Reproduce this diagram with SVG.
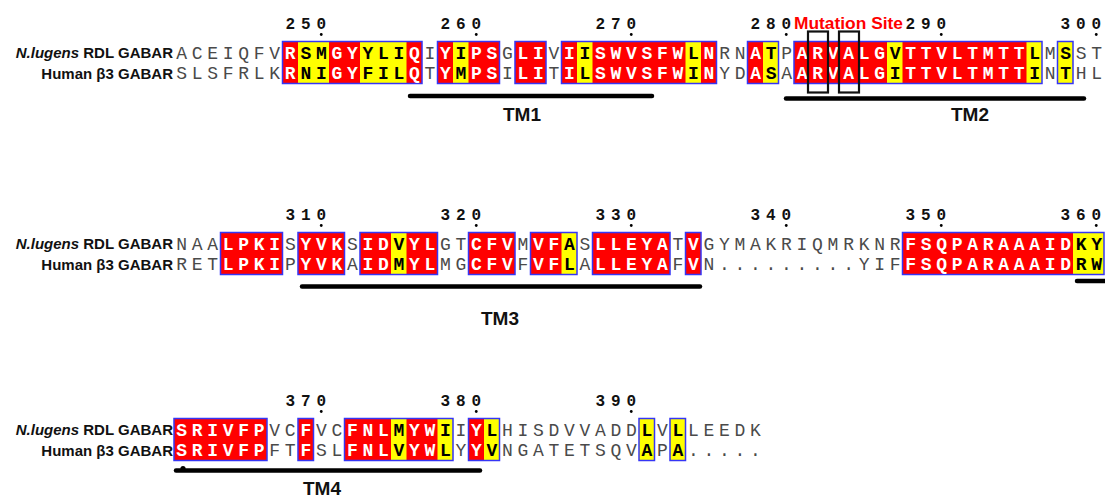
<svg xmlns="http://www.w3.org/2000/svg" width="1105" height="497" viewBox="0 0 1105 497">
<style>
.seq{font-family:"Liberation Mono",monospace;font-size:18px;letter-spacing:4.7px}
.g{fill:#4a4a4a;font-weight:normal}
.w{fill:#ffffff;font-weight:bold}
.k{fill:#000000;font-weight:bold}
.num{font-family:"Liberation Mono",monospace;font-size:16px;font-weight:bold;fill:#111;text-anchor:middle}
.lab{font-family:"Liberation Sans",Arial,sans-serif;font-size:15px;font-weight:bold;fill:#111;text-anchor:end}
.tm{font-family:"Liberation Sans",Arial,sans-serif;font-size:19px;font-weight:bold;fill:#111;text-anchor:middle}
.red{fill:#ff0000}
.yel{fill:#ffff00}
.box{fill:none;stroke:#3535f5;stroke-width:1.5}
.bar{stroke:#000;stroke-width:4.5;stroke-linecap:round;fill:none}
.mut{fill:none;stroke:#111;stroke-width:2.2}
</style>

<!-- Block 1 -->
<g id="block1">
  <g id="b1-cells">
    <rect class="red" x="282.5" y="41.5" width="139.5" height="42"/>
    <rect class="red" x="437.5" y="41.5" width="62" height="42"/>
    <rect class="red" x="515" y="41.5" width="31" height="42"/>
    <rect class="red" x="561.5" y="41.5" width="155" height="42"/>
    <rect class="red" x="747.5" y="41.5" width="31" height="42"/>
    <rect class="red" x="794" y="41.5" width="248" height="42"/>
    <rect class="yel" x="298" y="41.5" width="31" height="42"/>
    <rect class="yel" x="360" y="41.5" width="46.5" height="42"/>
    <rect class="yel" x="453" y="41.5" width="15.5" height="42"/>
    <rect class="yel" x="577" y="41.5" width="15.5" height="42"/>
    <rect class="yel" x="685.5" y="41.5" width="15.5" height="42"/>
    <rect class="yel" x="763" y="41.5" width="15.5" height="42"/>
    <rect class="yel" x="887" y="41.5" width="15.5" height="42"/>
    <rect class="yel" x="1026.5" y="41.5" width="15.5" height="42"/>
    <rect class="yel" x="1057.5" y="41.5" width="15.5" height="42"/>
    <rect class="box" x="282.5" y="41.5" width="139.5" height="42"/>
    <rect class="box" x="437.5" y="41.5" width="62" height="42"/>
    <rect class="box" x="515" y="41.5" width="31" height="42"/>
    <rect class="box" x="561.5" y="41.5" width="155" height="42"/>
    <rect class="box" x="747.5" y="41.5" width="31" height="42"/>
    <rect class="box" x="794" y="41.5" width="248" height="42"/>
    <rect class="box" x="1057.5" y="41.5" width="15.5" height="42"/>
  </g>
  <g id="b1-numbers">
    <text class="num" x="290.25 305.75 321.25" y="28.5">250</text>
    <text class="num" x="445.25 460.75 476.25" y="28.5">260</text>
    <text class="num" x="600.25 615.75 631.25" y="28.5">270</text>
    <text class="num" x="755.25 770.75 786.25" y="28.5">280</text>
    <text class="num" x="910.25 925.75 941.25" y="28.5">290</text>
    <text class="num" x="1065.25 1080.75 1096.25" y="28.5">300</text>
    <circle cx="321.25" cy="34.5" r="1.4"/><circle cx="476.25" cy="34.5" r="1.4"/><circle cx="631.25" cy="34.5" r="1.4"/><circle cx="786.25" cy="34.5" r="1.4"/><circle cx="941.25" cy="34.5" r="1.4"/><circle cx="1096.25" cy="34.5" r="1.4"/>
  </g>
  <text id="mutation-label" x="794" y="28.5" textLength="109" lengthAdjust="spacingAndGlyphs" style="font-family:'Liberation Sans',Arial,sans-serif;font-size:16.5px;font-weight:bold;fill:#ff0000">Mutation Site</text>
  <g id="b1-labels">
    <text class="lab" x="173" y="58">
<tspan font-style="italic">N.lugens</tspan> RDL GABAR</text>
    <text class="lab" x="173" y="78.5">Human β3 GABAR</text>
  </g>
  <text class="seq" x="176.35" y="58.5"><tspan class="g">ACEIQFV</tspan><tspan class="w">R</tspan><tspan class="k">SM</tspan><tspan class="w">GY</tspan><tspan class="k">YLI</tspan><tspan class="w">Q</tspan><tspan class="g">I</tspan><tspan class="w">Y</tspan><tspan class="k">I</tspan><tspan class="w">PS</tspan><tspan class="g">G</tspan><tspan class="w">LI</tspan><tspan class="g">V</tspan><tspan class="w">I</tspan><tspan class="k">I</tspan><tspan class="w">SWVSFW</tspan><tspan class="k">L</tspan><tspan class="w">N</tspan><tspan class="g">RN</tspan><tspan class="w">A</tspan><tspan class="k">T</tspan><tspan class="g">P</tspan><tspan class="w">ARVALG</tspan><tspan class="k">V</tspan><tspan class="w">TTVLTMTT</tspan><tspan class="k">L</tspan><tspan class="g">M</tspan><tspan class="k">S</tspan><tspan class="g">ST</tspan></text>
  <text class="seq" x="176.35" y="79"><tspan class="g">SLSFRLK</tspan><tspan class="w">R</tspan><tspan class="k">NI</tspan><tspan class="w">GY</tspan><tspan class="k">FIL</tspan><tspan class="w">Q</tspan><tspan class="g">T</tspan><tspan class="w">Y</tspan><tspan class="k">M</tspan><tspan class="w">PS</tspan><tspan class="g">I</tspan><tspan class="w">LI</tspan><tspan class="g">T</tspan><tspan class="w">I</tspan><tspan class="k">L</tspan><tspan class="w">SWVSFW</tspan><tspan class="k">I</tspan><tspan class="w">N</tspan><tspan class="g">YD</tspan><tspan class="w">A</tspan><tspan class="k">S</tspan><tspan class="g">A</tspan><tspan class="w">ARVALG</tspan><tspan class="k">I</tspan><tspan class="w">TTVLTMTT</tspan><tspan class="k">I</tspan><tspan class="g">N</tspan><tspan class="k">T</tspan><tspan class="g">HL</tspan></text>
  <g id="mutation-boxes">
    <rect class="mut" x="808" y="31.5" width="20" height="61"/>
    <rect class="mut" x="839" y="31.5" width="20" height="61"/>
  </g>
</g>

<!-- Block 2 -->
<g id="block2">
  <g id="b2-cells">
    <rect class="red" x="220.5" y="232.5" width="62" height="42"/>
    <rect class="red" x="298" y="232.5" width="46.5" height="42"/>
    <rect class="red" x="360" y="232.5" width="77.5" height="42"/>
    <rect class="red" x="468.5" y="232.5" width="46.5" height="42"/>
    <rect class="red" x="530.5" y="232.5" width="46.5" height="42"/>
    <rect class="red" x="592.5" y="232.5" width="77.5" height="42"/>
    <rect class="red" x="685.5" y="232.5" width="15.5" height="42"/>
    <rect class="red" x="902.5" y="232.5" width="201.5" height="42"/>
    <rect class="yel" x="391" y="232.5" width="15.5" height="42"/>
    <rect class="yel" x="561.5" y="232.5" width="15.5" height="42"/>
    <rect class="yel" x="1073" y="232.5" width="31" height="42"/>
    <rect class="box" x="220.5" y="232.5" width="62" height="42"/>
    <rect class="box" x="298" y="232.5" width="46.5" height="42"/>
    <rect class="box" x="360" y="232.5" width="77.5" height="42"/>
    <rect class="box" x="468.5" y="232.5" width="46.5" height="42"/>
    <rect class="box" x="530.5" y="232.5" width="46.5" height="42"/>
    <rect class="box" x="592.5" y="232.5" width="77.5" height="42"/>
    <rect class="box" x="685.5" y="232.5" width="15.5" height="42"/>
    <rect class="box" x="902.5" y="232.5" width="201.5" height="42"/>
  </g>
  <g id="b2-numbers">
    <text class="num" x="290.25 305.75 321.25" y="219.5">310</text>
    <text class="num" x="445.25 460.75 476.25" y="219.5">320</text>
    <text class="num" x="600.25 615.75 631.25" y="219.5">330</text>
    <text class="num" x="755.25 770.75 786.25" y="219.5">340</text>
    <text class="num" x="910.25 925.75 941.25" y="219.5">350</text>
    <text class="num" x="1065.25 1080.75 1096.25" y="219.5">360</text>
    <circle cx="321.25" cy="225.5" r="1.4"/><circle cx="476.25" cy="225.5" r="1.4"/><circle cx="631.25" cy="225.5" r="1.4"/><circle cx="786.25" cy="225.5" r="1.4"/><circle cx="941.25" cy="225.5" r="1.4"/><circle cx="1096.25" cy="225.5" r="1.4"/>
  </g>
  <g id="b2-labels">
    <text class="lab" x="173" y="249"><tspan font-style="italic">N.lugens</tspan> RDL GABAR</text>
    <text class="lab" x="173" y="269.5">Human β3 GABAR</text>
  </g>
  <text class="seq" x="176.35" y="249.5"><tspan class="g">NAA</tspan><tspan class="w">LPKI</tspan><tspan class="g">S</tspan><tspan class="w">YVK</tspan><tspan class="g">S</tspan><tspan class="w">ID</tspan><tspan class="k">V</tspan><tspan class="w">YL</tspan><tspan class="g">GT</tspan><tspan class="w">CFV</tspan><tspan class="g">M</tspan><tspan class="w">VF</tspan><tspan class="k">A</tspan><tspan class="g">S</tspan><tspan class="w">LLEYA</tspan><tspan class="g">T</tspan><tspan class="w">V</tspan><tspan class="g">GYMAKRIQMRKNR</tspan><tspan class="w">FSQPARAAAID</tspan><tspan class="k">KY</tspan></text>
  <text class="seq" x="176.35" y="270"><tspan class="g">RET</tspan><tspan class="w">LPKI</tspan><tspan class="g">P</tspan><tspan class="w">YVK</tspan><tspan class="g">A</tspan><tspan class="w">ID</tspan><tspan class="k">M</tspan><tspan class="w">YL</tspan><tspan class="g">MG</tspan><tspan class="w">CFV</tspan><tspan class="g">F</tspan><tspan class="w">VF</tspan><tspan class="k">L</tspan><tspan class="g">A</tspan><tspan class="w">LLEYA</tspan><tspan class="g">F</tspan><tspan class="w">V</tspan><tspan class="g">N.........YIF</tspan><tspan class="w">FSQPARAAAID</tspan><tspan class="k">RW</tspan></text>
</g>

<!-- Block 3 -->
<g id="block3">
  <g id="b3-cells">
    <rect class="red" x="174" y="418.5" width="93" height="42"/>
    <rect class="red" x="298" y="418.5" width="15.5" height="42"/>
    <rect class="red" x="344.5" y="418.5" width="108.5" height="42"/>
    <rect class="red" x="468.5" y="418.5" width="31" height="42"/>
    <rect class="yel" x="391" y="418.5" width="15.5" height="42"/>
    <rect class="yel" x="437.5" y="418.5" width="15.5" height="42"/>
    <rect class="yel" x="484" y="418.5" width="15.5" height="42"/>
    <rect class="yel" x="639" y="418.5" width="15.5" height="42"/>
    <rect class="yel" x="670" y="418.5" width="15.5" height="42"/>
    <rect class="box" x="174" y="418.5" width="93" height="42"/>
    <rect class="box" x="298" y="418.5" width="15.5" height="42"/>
    <rect class="box" x="344.5" y="418.5" width="108.5" height="42"/>
    <rect class="box" x="468.5" y="418.5" width="31" height="42"/>
    <rect class="box" x="639" y="418.5" width="15.5" height="42"/>
    <rect class="box" x="670" y="418.5" width="15.5" height="42"/>
  </g>
  <g id="b3-numbers">
    <text class="num" x="290.25 305.75 321.25" y="405.5">370</text>
    <text class="num" x="445.25 460.75 476.25" y="405.5">380</text>
    <text class="num" x="600.25 615.75 631.25" y="405.5">390</text>
    <circle cx="321.25" cy="411.5" r="1.4"/><circle cx="476.25" cy="411.5" r="1.4"/><circle cx="631.25" cy="411.5" r="1.4"/>
  </g>
  <g id="b3-labels">
    <text class="lab" x="173" y="435"><tspan font-style="italic">N.lugens</tspan> RDL GABAR</text>
    <text class="lab" x="173" y="455.5">Human β3 GABAR</text>
  </g>
  <text class="seq" x="176.35" y="435.5"><tspan class="w">SRIVFP</tspan><tspan class="g">VC</tspan><tspan class="w">F</tspan><tspan class="g">VC</tspan><tspan class="w">FNL</tspan><tspan class="k">M</tspan><tspan class="w">YW</tspan><tspan class="k">I</tspan><tspan class="g">I</tspan><tspan class="w">Y</tspan><tspan class="k">L</tspan><tspan class="g">HISDVVADD</tspan><tspan class="k">L</tspan><tspan class="g">V</tspan><tspan class="k">L</tspan><tspan class="g">LEEDK</tspan></text>
  <text class="seq" x="176.35" y="456"><tspan class="w">SRIVFP</tspan><tspan class="g">FT</tspan><tspan class="w">F</tspan><tspan class="g">SL</tspan><tspan class="w">FNL</tspan><tspan class="k">V</tspan><tspan class="w">YW</tspan><tspan class="k">L</tspan><tspan class="g">Y</tspan><tspan class="w">Y</tspan><tspan class="k">V</tspan><tspan class="g">NGATETSQV</tspan><tspan class="k">A</tspan><tspan class="g">P</tspan><tspan class="k">A</tspan><tspan class="g">.....</tspan></text>
</g>

<!-- Transmembrane segment bars -->
<g id="tm-bars">
  <line class="bar" x1="410" y1="96" x2="652" y2="96"/>
  <line class="bar" x1="786" y1="98.5" x2="1084" y2="98.5"/>
  <line class="bar" x1="302" y1="286.5" x2="700" y2="286.5"/>
  <line class="bar" x1="1077" y1="281" x2="1107" y2="281"/>
  <line class="bar" x1="176" y1="470.5" x2="480" y2="470.5"/>
  <circle cx="183" cy="468.5" r="2.6"/>
</g>
<g id="tm-labels">
  <text class="tm" x="522" y="121">TM1</text>
  <text class="tm" x="970" y="121">TM2</text>
  <text class="tm" x="500" y="325">TM3</text>
  <text class="tm" x="322" y="495">TM4</text>
</g>
</svg>
